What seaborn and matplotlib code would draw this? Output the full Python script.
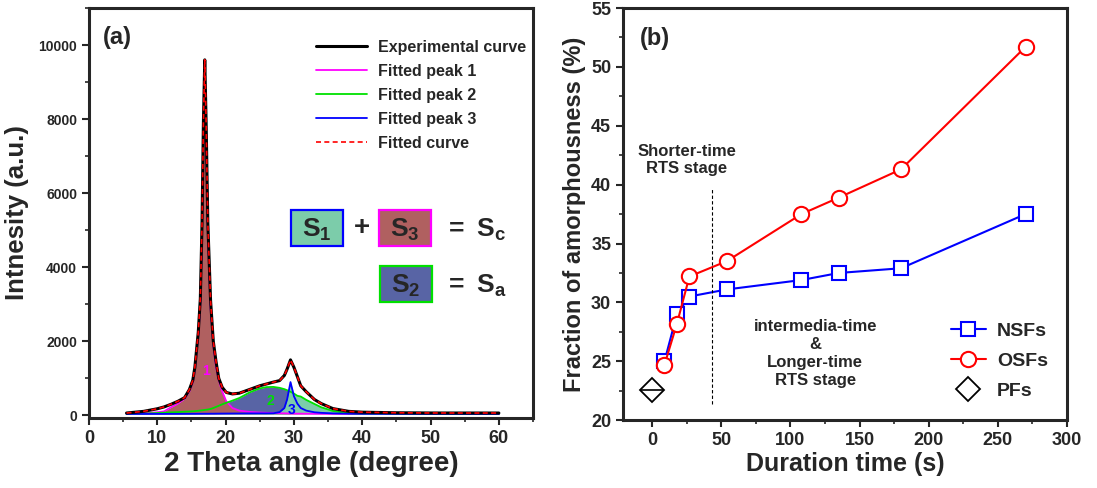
import numpy as np
import pandas as pd
import matplotlib
matplotlib.use("Agg")
import matplotlib.pyplot as plt
import seaborn as sns
from matplotlib.patches import Rectangle
from matplotlib.ticker import MultipleLocator

# ===== Data: (a) XRD pattern =====
two_theta = [5.5, 8, 10, 11, 12, 13, 14, 14.7, 15.2, 15.5, 16.0, 16.3, 16.55, 16.75,
             16.95, 17.15, 17.4, 17.8, 18.2, 18.6, 19.0, 19.5, 20.1, 21.0, 22.0, 23.5,
             25.0, 26.0, 27.0, 27.9, 28.6, 29.0, 29.5, 30.0, 30.5, 31.0, 31.8, 33.0,
             34.0, 35.7, 38.0, 40.0, 45, 50, 55, 60]
experimental = [65, 110, 180, 230, 300, 380, 480, 700, 950, 1300, 2250, 3150, 5200, 7900,
                9600, 7900, 5200, 3100, 2000, 1450, 1000, 760, 620, 580, 600, 700,
                800, 850, 900, 940, 1080, 1250, 1500, 1300, 1050, 800, 640, 430,
                320, 185, 110, 88, 72, 66, 65, 65]
peak1 = [45, 60, 85, 110, 220, 320, 450, 650, 900, 1230, 2150, 3000, 5000, 7700,
         9450, 7700, 5000, 2900, 1900, 1300, 950, 650, 380, 200, 130, 95,
         78, 70, 65, 60, 57, 55, 52, 50, 48, 47, 46, 45,
         44, 43, 42, 42, 41, 41, 40, 40]
peak2 = [41, 50, 65, 75, 82, 90, 100, 106, 110, 115, 125, 132, 138, 143,
         148, 153, 160, 175, 200, 230, 260, 300, 340, 400, 470, 620,
         730, 765, 770, 745, 710, 680, 640, 590, 530, 510, 420, 310,
         220, 120, 55, 45, 41, 40, 40, 40]
peak3 = [40, 40, 41, 41, 42, 42, 43, 43, 44, 44, 45, 45, 45, 46,
         46, 46, 46, 47, 47, 48, 49, 50, 51, 52, 53, 54,
         55, 55, 58, 90, 200, 430, 900, 520, 320, 200, 130, 85,
         70, 55, 47, 44, 42, 41, 41, 40]
baseline = 40
peak3_center = 29.5

# ===== Data: (b) fraction of amorphousness =====
duration = [9, 18, 27, 54, 108, 135, 180, 270]
nsf = [25.0, 29.0, 30.5, 31.1, 31.9, 32.5, 32.9, 37.5]
osf = [24.7, 28.2, 32.2, 33.5, 37.5, 38.9, 41.3, 51.7]
pf_time = [0]
pf = [22.6]
stage_boundary = 43

xrd = pd.DataFrame({"two_theta": two_theta, "exp": experimental,
                    "p1": peak1, "p2": peak2, "p3": peak3})

sns.set_style("ticks")
plt.rcParams["font.family"] = ["Liberation Sans", "DejaVu Sans"]
plt.rcParams["font.weight"] = "bold"
plt.rcParams["mathtext.fontset"] = "custom"
plt.rcParams["mathtext.rm"] = "Liberation Sans:bold"
plt.rcParams["mathtext.bf"] = "Liberation Sans:bold"
plt.rcParams["mathtext.it"] = "Liberation Sans:bold"

fig = plt.figure(figsize=(10.97, 4.88), dpi=100)
ax1 = fig.add_axes([0.0811, 0.1434, 0.4048, 0.8402])
ax2 = fig.add_axes([0.5679, 0.139, 0.4048, 0.8446])

# ===== (a) =====
tt = xrd["two_theta"].to_numpy()
left = tt <= peak3_center
right = tt >= peak3_center
upper = np.maximum(xrd["p2"], xrd["p3"])
ax1.fill_between(tt, baseline, xrd["p2"], where=left, color="#5864A5", lw=0, zorder=1)
ax1.fill_between(tt, baseline, upper, where=right, color="#7CCCAA", lw=0, zorder=1)
ax1.fill_between(tt, baseline, xrd["p1"], color="#B06060", lw=0, zorder=2)
ax1.fill_between(tt, baseline, xrd["p3"], where=left, color="#7CCCAA", lw=0, zorder=2)

sns.lineplot(data=xrd, x="two_theta", y="exp", color="black", lw=2.2, ax=ax1,
             label="Experimental curve", zorder=4)
sns.lineplot(data=xrd, x="two_theta", y="p1", color="#FF00FF", lw=1.3, ax=ax1,
             label="Fitted peak 1", zorder=3)
sns.lineplot(data=xrd, x="two_theta", y="p2", color="#00E000", lw=1.3, ax=ax1,
             label="Fitted peak 2", zorder=3)
sns.lineplot(data=xrd, x="two_theta", y="p3", color="#0000FF", lw=1.3, ax=ax1,
             label="Fitted peak 3", zorder=3)
sns.lineplot(data=xrd, x="two_theta", y="exp", color="#FF0000", lw=1.2, ax=ax1,
             label="Fitted curve", zorder=5, linestyle=(0, (3, 2)))

ax1.set_xlim(0, 65)
ax1.set_ylim(-70, 11000)
ax1.xaxis.set_major_locator(MultipleLocator(10))
ax1.xaxis.set_minor_locator(MultipleLocator(5))
ax1.yaxis.set_major_locator(MultipleLocator(2000))
ax1.yaxis.set_minor_locator(MultipleLocator(1000))
ax1.set_xlabel("2 Theta angle (degree)", fontsize=20, fontweight="bold", labelpad=3)
ax1.set_ylabel("Intnesity (a.u.)", fontsize=18.5, fontweight="bold", labelpad=7)
ax1.tick_params(axis="x", labelsize=13)
ax1.tick_params(axis="y", labelsize=10)

ax1.text(0.032, 0.955, "(a)", transform=ax1.transAxes, fontsize=17, fontweight="bold",
         va="top")
ax1.text(17.2, 1100, "1", color="#FF00FF", fontsize=10, fontweight="bold", ha="center")
ax1.text(26.6, 280, "2", color="#00E000", fontsize=10, fontweight="bold", ha="center")
ax1.text(29.6, 40, "3", color="#0000FF", fontsize=10, fontweight="bold", ha="center")

leg1 = ax1.legend(loc="upper right", bbox_to_anchor=(0.985, 0.922), frameon=False,
                  fontsize=11.5, handlelength=3.2, labelspacing=0.56, handletextpad=0.7,
                  borderaxespad=0, borderpad=0)
for t in leg1.get_texts():
    t.set_fontweight("bold")

# S boxes
boxes = [((0.455, 0.4195), "#7CCCAA", "#0000FF", r"$\mathbf{S_1}$"),
         ((0.653, 0.4195), "#B06060", "#FF00FF", r"$\mathbf{S_3}$"),
         ((0.655, 0.283), "#5864A5", "#00E000", r"$\mathbf{S_2}$")]
for (bx, by), fc, ec, lab in boxes:
    ax1.add_patch(Rectangle((bx, by), 0.117, 0.087, transform=ax1.transAxes,
                            facecolor=fc, edgecolor=ec, lw=1.6, zorder=6))
    ax1.text(bx + 0.0585, by + 0.040, lab, transform=ax1.transAxes, fontsize=19,
             ha="center", va="center", zorder=7)
ax1.text(0.615, 0.463, "+", transform=ax1.transAxes, fontsize=20, fontweight="bold",
         ha="center", va="center")
ax1.text(0.80, 0.460, r"$\mathbf{=\ S_c}$", transform=ax1.transAxes, fontsize=19,
         ha="left", va="center")
ax1.text(0.80, 0.323, r"$\mathbf{=\ S_a}$", transform=ax1.transAxes, fontsize=19,
         ha="left", va="center")

# ===== (b) =====
sns.lineplot(x=duration, y=nsf, ax=ax2, color="#0000FF", lw=1.5, marker="s",
             markersize=10, markerfacecolor="white", markeredgecolor="#0000FF",
             markeredgewidth=1.5, label="NSFs")
sns.lineplot(x=duration, y=osf, ax=ax2, color="#FF0000", lw=1.5, marker="o",
             markersize=11, markerfacecolor="white", markeredgecolor="#FF0000",
             markeredgewidth=1.5, label="OSFs")
ax2.plot(pf_time, pf, linestyle="none", marker="D", markersize=12,
         markerfacecolor="white", markeredgecolor="black", markeredgewidth=1.3,
         label="PFs")
ax2.plot(pf_time, pf, linestyle="none", marker="_", markersize=16,
         markeredgecolor="black", markeredgewidth=1.2)

ax2.vlines(stage_boundary, 21.4, 39.7, colors="black", lw=0.8, linestyles=(0, (3, 2)))
ax2.text(25, 42.1, "Shorter-time\nRTS stage", fontsize=12, fontweight="bold",
         ha="center", va="center", linespacing=1.2)
ax2.text(118, 25.7, "intermedia-time\n&\nLonger-time\nRTS stage", fontsize=12,
         fontweight="bold", ha="center", va="center", linespacing=1.25)
ax2.text(0.038, 0.955, "(b)", transform=ax2.transAxes, fontsize=17, fontweight="bold",
         va="top")

ax2.set_xlim(-21, 300)
ax2.set_ylim(20, 55)
ax2.xaxis.set_major_locator(MultipleLocator(50))
ax2.xaxis.set_minor_locator(MultipleLocator(25))
ax2.yaxis.set_major_locator(MultipleLocator(5))
ax2.yaxis.set_minor_locator(MultipleLocator(2.5))
ax2.set_xlabel("Duration time (s)", fontsize=18, fontweight="bold", labelpad=2)
ax2.set_ylabel("Fraction of amorphousness (%)", fontsize=17, fontweight="bold", labelpad=4)
ax2.tick_params(labelsize=13)

leg2 = ax2.legend(loc="lower right", bbox_to_anchor=(0.997, 0.006), frameon=False,
                  fontsize=14, handlelength=1.8, labelspacing=0.65, handletextpad=0.6)
for t in leg2.get_texts():
    t.set_fontweight("bold")

for ax in (ax1, ax2):
    for s in ax.spines.values():
        s.set_linewidth(2.2)
    ax.tick_params(which="major", direction="out", length=5, width=1.5)
    ax.tick_params(which="minor", direction="out", length=3, width=1.2)
    for lbl in ax.get_xticklabels() + ax.get_yticklabels():
        lbl.set_fontweight("bold")

fig.savefig("out.png", dpi=100)
